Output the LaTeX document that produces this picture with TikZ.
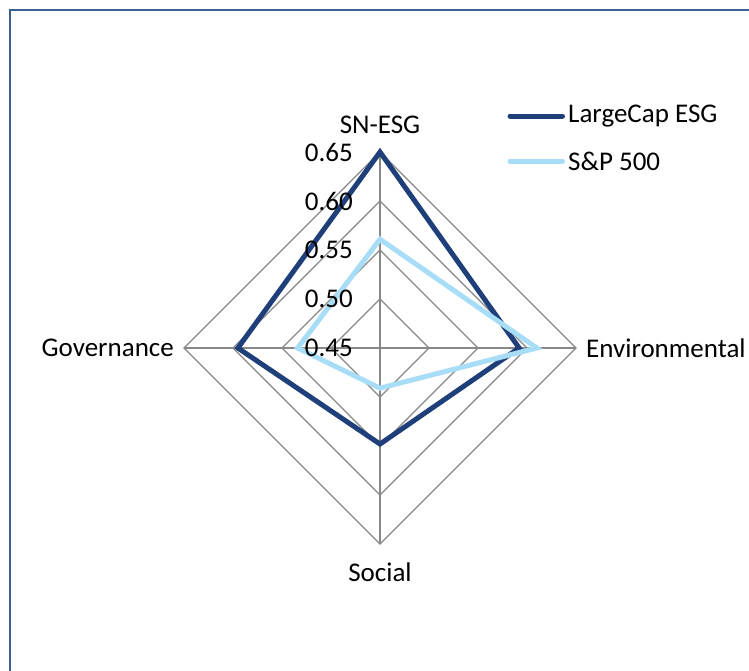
\documentclass[tikz,border=0pt]{standalone}
\usepackage{fontspec}
\setmainfont{Carlito}
\usepackage{tikz}
\usetikzlibrary{positioning,calc}
\definecolor{LargeCapColor}{HTML}{1F3F7A}
\definecolor{SPColor}{HTML}{A8DDF8}
\definecolor{GridGrey}{HTML}{888888}
\definecolor{FrameColor}{HTML}{3A5F95}

\begin{document}
\begin{tikzpicture}[x=1pt,y=1pt,font=\fontsize{27}{32}\selectfont,
  gridline/.style={GridGrey,line width=1.3pt},
  series/.style={line width=5pt,miter limit=10},
  lbl/.style={inner sep=0pt}]
  \useasboundingbox (-380,-322) rectangle (369,348);
  % Frame
  \draw[FrameColor,line width=2.4pt] (-369.7,-330) |- (380,338);

  % Grid
  \coordinate (o) at (0,0);
  \coordinate (vN) at (0,196);
  \coordinate (vE) at (196,0);
  \coordinate (vS) at (0,-196);
  \coordinate (vW) at (-196,0);
  \foreach \k in {1,2,3,4}{
    \draw[gridline] (0,49*\k) -- (49*\k,0) -- (0,-49*\k) -- (-49*\k,0) -- cycle;
  }
  \foreach \v in {vN,vE,vS,vW}
    \draw[gridline] (o) -- (\v);

  % Axis labels
  \node[lbl,above=18pt of vN] (aSN){SN-ESG};
  \node[lbl,right=10pt of vE] (aEnv){Environmental};
  \node[lbl,below=19pt of vS] (aSoc){Social};
  \node[lbl,left=10pt of vW] (aGov){Governance};

  % Series (values: SN-ESG/Environmental/Social/Governance)
  \foreach \c/\vn/\ve/\vs/\vw in {LargeCapColor/0.650/0.592/0.548/0.595,
                                  SPColor/0.561/0.610/0.491/0.534}{
    \draw[series,\c] (0,{(\vn-0.45)*980}) -- ({(\ve-0.45)*980},0)
      -- (0,{-(\vs-0.45)*980}) -- ({-(\vw-0.45)*980},0) -- cycle;
  }

  % Tick labels
  \foreach \t [count=\k from 0] in {0.45,0.50,0.55,0.60,0.65}{
    \node[lbl,anchor=east] (t\k) at (-27,49*\k) {\t};
  }

  % Legend
  \node[lbl,anchor=west] (legLC) at (188,232) {LargeCap ESG};
  \node[lbl,anchor=west] (legSP) at (188,187) {S\&P 500};
  \draw[series,line cap=round,LargeCapColor,shorten <=5.5pt] (legLC.west) -- ++(-58,0);
  \draw[series,line cap=round,SPColor,shorten <=5.5pt] (legSP.west) -- ++(-58,0);
\end{tikzpicture}
\end{document}
